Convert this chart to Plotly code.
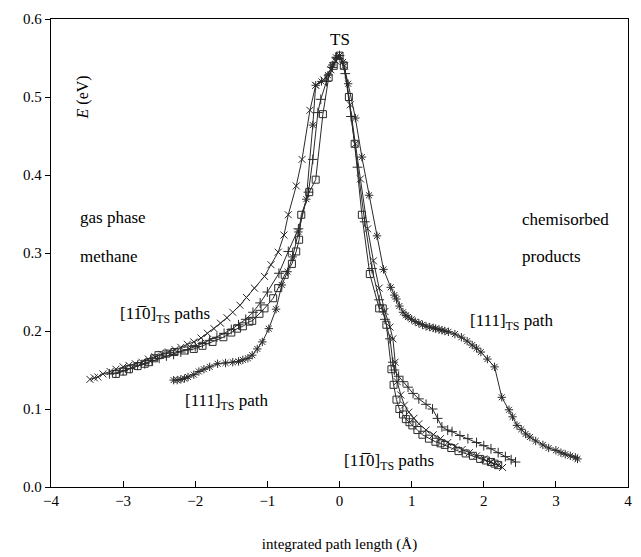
import plotly.graph_objects as go

# [1-10]TS path, "x" markers
X_XPATH = [-3.46, -3.40, -3.35, -3.28, -3.18, -3.10, -3.00, -2.92, -2.83, -2.74, -2.65, -2.56,
           -2.46, -2.37, -2.28, -2.20, -2.11, -2.02, -1.92, -1.83, -1.74, -1.65, -1.56, -1.48,
           -1.38, -1.29, -1.18, -1.04, -0.95, -0.85, -0.77, -0.71, -0.60, -0.52, -0.41, -0.33,
           -0.22, -0.12, -0.05, 0.0, 0.07, 0.15, 0.22, 0.29, 0.39, 0.47, 0.55, 0.63, 0.70, 0.74,
           0.77, 0.80, 0.85, 0.90, 0.96, 1.03, 1.10, 1.20, 1.30, 1.40, 1.50, 1.60, 1.70, 1.80,
           1.90, 2.00, 2.10, 2.20, 2.26]
E_XPATH = [0.138, 0.140, 0.141, 0.145, 0.148, 0.151, 0.154, 0.156, 0.158, 0.160, 0.164, 0.167,
           0.170, 0.173, 0.176, 0.179, 0.183, 0.186, 0.191, 0.197, 0.203, 0.210, 0.217, 0.224,
           0.233, 0.243, 0.255, 0.270, 0.285, 0.301, 0.323, 0.349, 0.386, 0.420, 0.483, 0.515,
           0.522, 0.535, 0.546, 0.553, 0.540, 0.490, 0.440, 0.395, 0.331, 0.290, 0.255, 0.225,
           0.205, 0.190, 0.160, 0.135, 0.118, 0.105, 0.096, 0.088, 0.081, 0.073, 0.067, 0.062,
           0.057, 0.052, 0.048, 0.044, 0.040, 0.036, 0.032, 0.028, 0.025]

# [1-10]TS path, "+" markers
X_PLUSPATH = [-3.19, -3.10, -3.00, -2.90, -2.80, -2.70, -2.60, -2.50, -2.40, -2.30, -2.20, -2.10,
              -2.00, -1.90, -1.80, -1.70, -1.60, -1.50, -1.40, -1.30, -1.20, -1.10, -1.00, -0.84,
              -0.71, -0.57, -0.43, -0.37, -0.30, -0.26, -0.18, -0.10, -0.04, 0.0, 0.08, 0.16,
              0.25, 0.35, 0.45, 0.55, 0.63, 0.70, 0.74, 0.76, 0.82, 0.88, 0.95, 1.02, 1.10, 1.20,
              1.29, 1.36, 1.42, 1.50, 1.56, 1.67, 1.78, 1.90, 2.00, 2.10, 2.20, 2.30, 2.38, 2.44]
E_PLUSPATH = [0.145, 0.146, 0.149, 0.152, 0.156, 0.158, 0.162, 0.165, 0.168, 0.170, 0.173, 0.176,
              0.180, 0.184, 0.188, 0.192, 0.197, 0.202, 0.208, 0.215, 0.224, 0.236, 0.250, 0.274,
              0.302, 0.331, 0.378, 0.420, 0.480, 0.497, 0.520, 0.538, 0.550, 0.553, 0.530, 0.475,
              0.410, 0.340, 0.280, 0.240, 0.215, 0.190, 0.160, 0.150, 0.142, 0.135, 0.128, 0.120,
              0.113, 0.106, 0.100, 0.088, 0.077, 0.073, 0.071, 0.066, 0.062, 0.057, 0.053, 0.049,
              0.044, 0.039, 0.035, 0.032]

# [1-10]TS path, open squares
X_SQPATH = [-3.10, -3.00, -2.92, -2.80, -2.70, -2.64, -2.57, -2.51, -2.40, -2.29, -2.15, -2.02,
            -1.90, -1.76, -1.61, -1.50, -1.42, -1.34, -1.25, -1.21, -1.11, -1.04, -0.92, -0.85,
            -0.76, -0.66, -0.60, -0.56, -0.53, -0.42, -0.33, -0.23, -0.15, -0.08, 0.0, 0.06,
            0.13, 0.21, 0.31, 0.42, 0.55, 0.60, 0.65, 0.72, 0.75, 0.79, 0.83, 0.88, 0.92, 0.97,
            1.01, 1.08, 1.15, 1.24, 1.33, 1.40, 1.46, 1.55, 1.65, 1.75, 1.85, 1.95, 2.03, 2.10,
            2.15, 2.20]
E_SQPATH = [0.145, 0.148, 0.151, 0.155, 0.158, 0.160, 0.165, 0.169, 0.171, 0.173, 0.175, 0.177,
            0.181, 0.186, 0.192, 0.198, 0.203, 0.206, 0.212, 0.213, 0.222, 0.229, 0.242, 0.255,
            0.272, 0.286, 0.302, 0.317, 0.349, 0.378, 0.394, 0.478, 0.525, 0.540, 0.553, 0.540,
            0.500, 0.440, 0.349, 0.273, 0.229, 0.229, 0.208, 0.151, 0.131, 0.112, 0.100, 0.093,
            0.087, 0.083, 0.079, 0.073, 0.067, 0.062, 0.058, 0.056, 0.054, 0.050, 0.046, 0.043,
            0.040, 0.036, 0.034, 0.032, 0.030, 0.028]

# [111]TS path, asterisks
X_111PATH = [-2.30, -2.25, -2.20, -2.15, -2.10, -2.02, -1.95, -1.88, -1.80, -1.69, -1.58, -1.48,
             -1.40, -1.34, -1.27, -1.21, -1.14, -1.07, -0.98, -0.88, -0.80, -0.72, -0.65, -0.57,
             -0.46, -0.37, -0.33, -0.25, -0.16, -0.10, -0.05, 0.0, 0.05, 0.12, 0.22, 0.31, 0.41,
             0.52, 0.61, 0.71, 0.76, 0.79, 0.83, 0.88, 0.92, 0.95, 1.00, 1.05, 1.10, 1.15, 1.20,
             1.25, 1.30, 1.33, 1.38, 1.42, 1.46, 1.51, 1.60, 1.69, 1.77, 1.84, 1.90, 1.96, 2.05,
             2.15, 2.25, 2.35, 2.40, 2.46, 2.52, 2.58, 2.64, 2.72, 2.82, 2.90, 3.00, 3.07, 3.13,
             3.20, 3.27, 3.30]
E_111PATH = [0.137, 0.137, 0.138, 0.139, 0.141, 0.144, 0.148, 0.151, 0.154, 0.158, 0.159, 0.160,
             0.161, 0.163, 0.165, 0.169, 0.177, 0.186, 0.203, 0.228, 0.259, 0.276, 0.295, 0.327,
             0.369, 0.464, 0.515, 0.520, 0.528, 0.541, 0.551, 0.553, 0.545, 0.517, 0.473, 0.423,
             0.374, 0.322, 0.279, 0.256, 0.246, 0.241, 0.232, 0.224, 0.220, 0.218, 0.215, 0.212,
             0.210, 0.208, 0.206, 0.205, 0.204, 0.203, 0.202, 0.201, 0.200, 0.199, 0.196, 0.192,
             0.187, 0.182, 0.178, 0.173, 0.164, 0.154, 0.115, 0.099, 0.090, 0.079, 0.074, 0.068,
             0.064, 0.059, 0.054, 0.050, 0.047, 0.044, 0.042, 0.040, 0.038, 0.036]

X_TICKS = [-4, -3, -2, -1, 0, 1, 2, 3, 4]
X_TICK_TEXT = ["\u22124", "\u22123", "\u22122", "\u22121", "0", "1", "2", "3", "4"]
Y_TICKS = [0.0, 0.1, 0.2, 0.3, 0.4, 0.5, 0.6]

SERIF = "Liberation Serif"
INK = "#2a2a2a"
LABEL_110 = "[11\u03050]<sub>TS</sub> paths"
LABEL_111 = "[111]<sub>TS</sub> path"

series = [
    (X_XPATH, E_XPATH, "x-thin-open", 7),
    (X_PLUSPATH, E_PLUSPATH, "cross-thin-open", 7),
    (X_SQPATH, E_SQPATH, "square-open", 7),
    (X_111PATH, E_111PATH, "asterisk-open", 7),
]

fig = go.Figure()
for xs, ys, sym, size in series:
    fig.add_trace(go.Scatter(
        x=xs, y=ys, mode="lines+markers",
        line=dict(color=INK, width=1),
        marker=dict(symbol=sym, size=size, color=INK, line=dict(color=INK, width=1)),
        showlegend=False,
    ))

notes = [
    (0.0, 0.574, "TS", "center"),
    (-3.62, 0.346, "gas phase", "left"),
    (-3.62, 0.295, "methane", "left"),
    (2.50, 0.343, "chemisorbed", "left"),
    (2.50, 0.295, "products", "left"),
    (-3.07, 0.220, LABEL_110, "left"),
    (-2.17, 0.109, LABEL_111, "left"),
    (1.78, 0.212, LABEL_111, "left"),
    (0.04, 0.032, LABEL_110, "left"),
]
for x, y, text, align in notes:
    fig.add_annotation(x=x, y=y, text=text, showarrow=False, xanchor=align,
                       font=dict(family=SERIF, size=17, color="black"))

fig.add_annotation(x=-3.55, y=0.50, text="<i>E</i> (eV)", showarrow=False, textangle=-90,
                   font=dict(family=SERIF, size=16, color="black"))

axis_common = dict(showline=True, linecolor="black", linewidth=1.3, mirror=True,
                   showgrid=False, zeroline=False, tickcolor="black",
                   tickfont=dict(family=SERIF, size=15, color="black"))

fig.update_xaxes(range=[-4, 4], tickvals=X_TICKS, ticktext=X_TICK_TEXT, ticks="inside",
                 ticklen=6, ticklabeloverflow="allow",
                 title=dict(text="integrated path length (\u00c5)", standoff=30,
                            font=dict(family=SERIF, size=15, color="black")),
                 **axis_common)
fig.update_yaxes(range=[0, 0.6], tickvals=Y_TICKS, tickformat=".1f", ticks="outside",
                 ticklen=5, **axis_common)

# the page body adds an 8px margin and clips the right side, so keep the figure narrower
fig.update_layout(width=625, height=549,
                  margin=dict(l=43, r=5, t=11, b=70, autoexpand=False),
                  plot_bgcolor="white", paper_bgcolor="white")

fig.write_html("out.html")
